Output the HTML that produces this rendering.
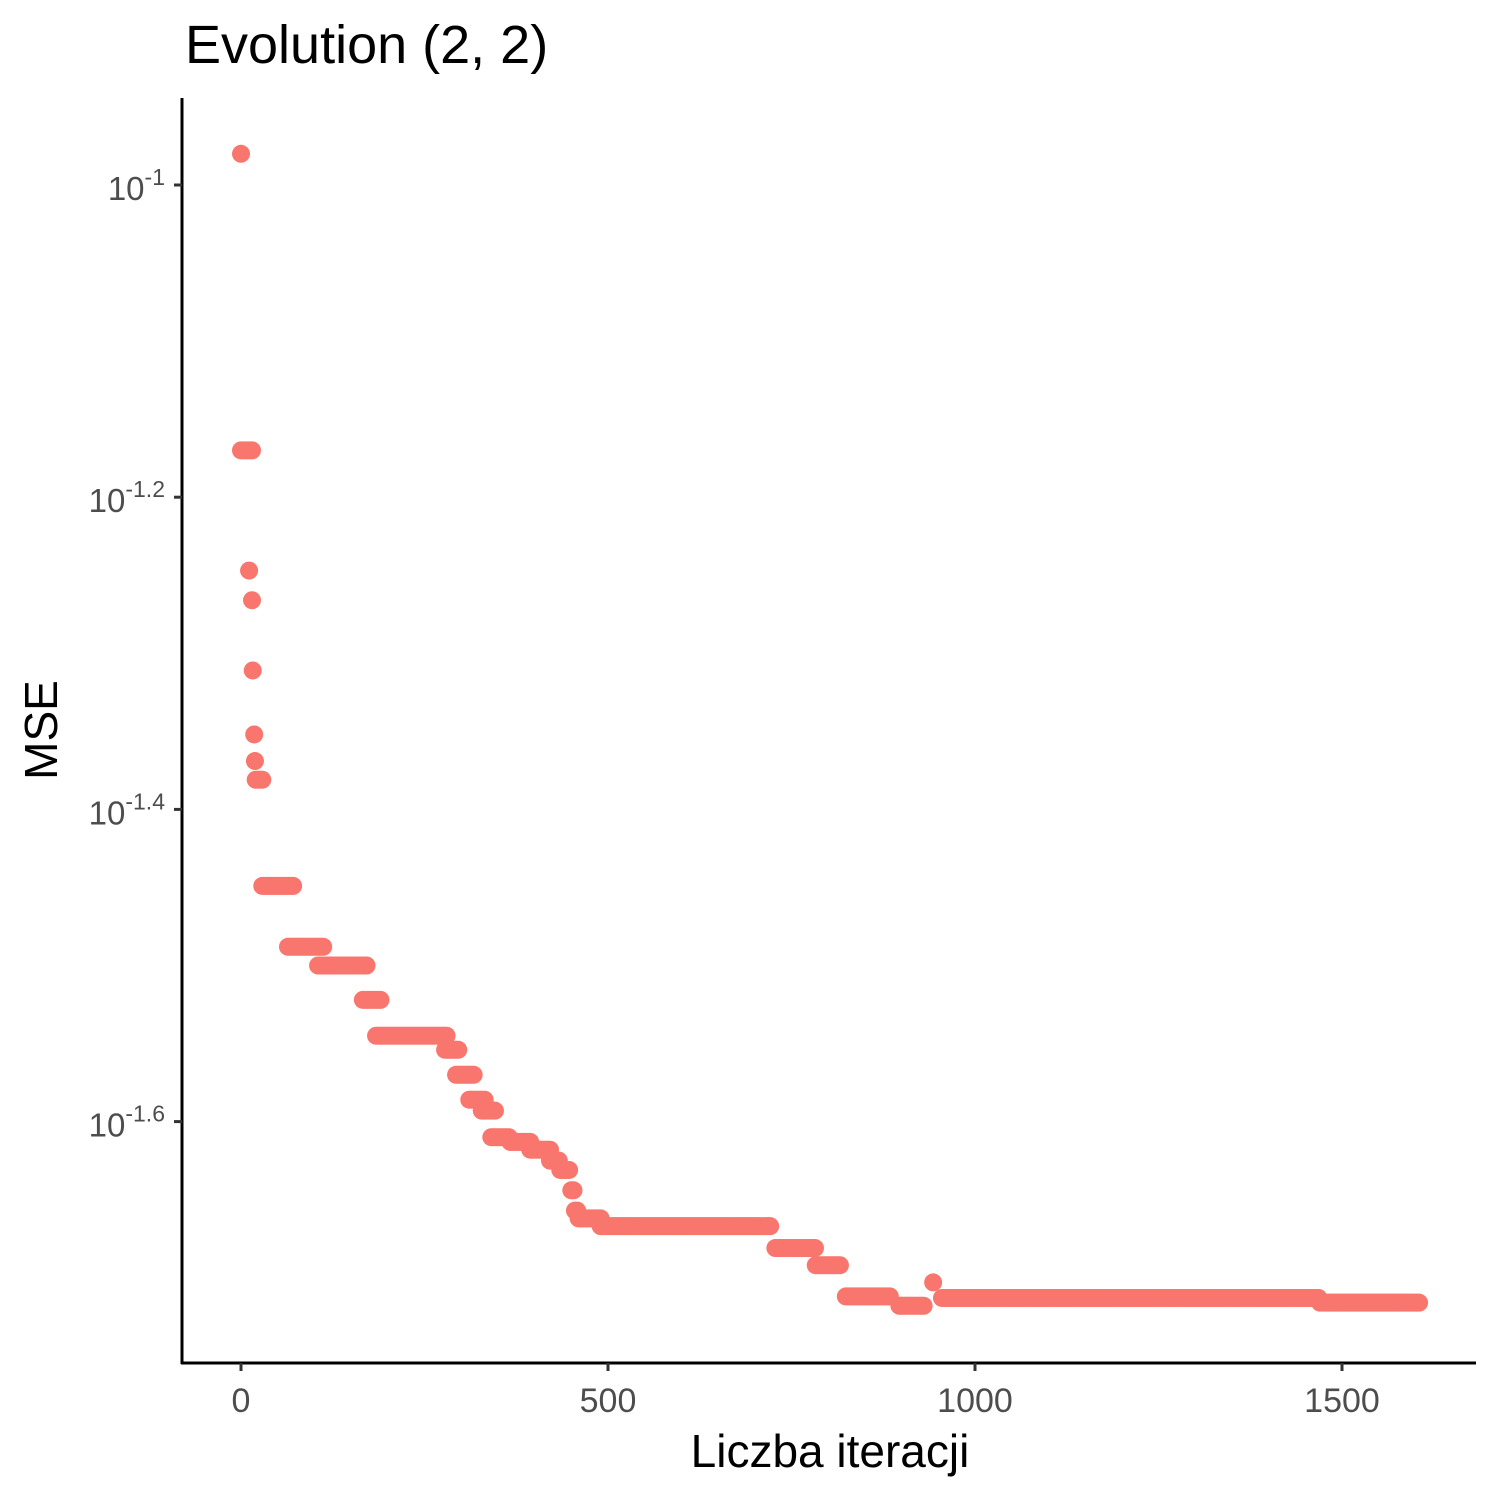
<!DOCTYPE html>
<html><head><meta charset="utf-8"><style>
html,body{margin:0;padding:0;background:#fff;}
svg{display:block;font-family:"Liberation Sans",sans-serif;}
</style></head><body>
<svg id="chart" width="1500" height="1500" viewBox="0 0 1500 1500">
<rect width="1500" height="1500" fill="#fff"/>
<text x="185" y="63" font-size="54" fill="#000">Evolution (2, 2)</text>
<g id="marks"></g>
<line x1="182" y1="98" x2="182" y2="1364" stroke="#000" stroke-width="3"/>
<line x1="181" y1="1363" x2="1476" y2="1363" stroke="#000" stroke-width="3"/>
<g id="yticks"></g>
<g id="xticks"></g>
<text x="830" y="1467" font-size="46" text-anchor="middle" fill="#000">Liczba iteracji</text>
<text transform="translate(57,730) rotate(-90)" font-size="46" text-anchor="middle" fill="#000">MSE</text>
</svg>
<script>
// step segments: start iteration, end iteration, log10(MSE)
const segStart = [0,0,11,15,16,18,19,20,29,64,105,166,184,278,293,311,328,341,367,394,421,435,450,455,460,490,728,783,824,897,943,955,1470];
const segEnd   = [0,15,11,15,16,18,19,30,71,112,173,192,282,298,319,332,346,367,394,421,435,448,455,460,490,722,783,817,885,932,943,1470,1606];
const segLog   = [-0.980,-1.170,-1.247,-1.266,-1.311,-1.352,-1.369,-1.381,-1.449,-1.488,-1.500,-1.522,-1.545,-1.554,-1.570,-1.586,-1.593,-1.610,-1.613,-1.618,-1.625,-1.631,-1.644,-1.657,-1.662,-1.667,-1.681,-1.692,-1.712,-1.718,-1.703,-1.713,-1.716];
const xTicks = [0,500,1000,1500];
const yTickExp = ["-1","-1.2","-1.4","-1.6"];
const yTickVals = [-1,-1.2,-1.4,-1.6];

const NS="http://www.w3.org/2000/svg";
function xs(v){return 241 + v*(1342-241)/1500;}
function ys(l){return 185 + (-1 - l)*1561;}

const marks=document.getElementById('marks');
for(let i=0;i<segStart.length;i++){
  for(let t=segStart[i]; t<=segEnd[i]; t+=3){
    const c=document.createElementNS(NS,'circle');
    c.setAttribute('cx',xs(t));c.setAttribute('cy',ys(segLog[i]));
    c.setAttribute('r',9);c.setAttribute('fill','#F8766D');
    
    
    marks.appendChild(c);
  }
}
const yt=document.getElementById('yticks');
yTickVals.forEach((v,i)=>{
  const y=ys(v);
  const l=document.createElementNS(NS,'line');
  l.setAttribute('x1',174);l.setAttribute('x2',182);l.setAttribute('y1',y);l.setAttribute('y2',y);
  l.setAttribute('stroke','#333');l.setAttribute('stroke-width',3);
  
  
  yt.appendChild(l);
  const tx=document.createElementNS(NS,'text');
  tx.setAttribute('x',165);tx.setAttribute('y',y+15);tx.setAttribute('text-anchor','end');
  tx.setAttribute('fill','#4d4d4d');tx.setAttribute('font-size','33');
  tx.innerHTML='10<tspan font-size="23" dy="-15">'+yTickExp[i]+'</tspan>';
  
  
  yt.appendChild(tx);
});
const xt=document.getElementById('xticks');
xTicks.forEach(v=>{
  const x=xs(v);
  const l=document.createElementNS(NS,'line');
  l.setAttribute('x1',x);l.setAttribute('x2',x);l.setAttribute('y1',1363);l.setAttribute('y2',1371);
  l.setAttribute('stroke','#333');l.setAttribute('stroke-width',3);
  
  
  xt.appendChild(l);
  const tx=document.createElementNS(NS,'text');
  tx.setAttribute('x',x);tx.setAttribute('y',1412);tx.setAttribute('text-anchor','middle');
  tx.setAttribute('fill','#4d4d4d');tx.setAttribute('font-size','34');
  tx.textContent=v;
  
  
  xt.appendChild(tx);
});
</script>
</body></html>
